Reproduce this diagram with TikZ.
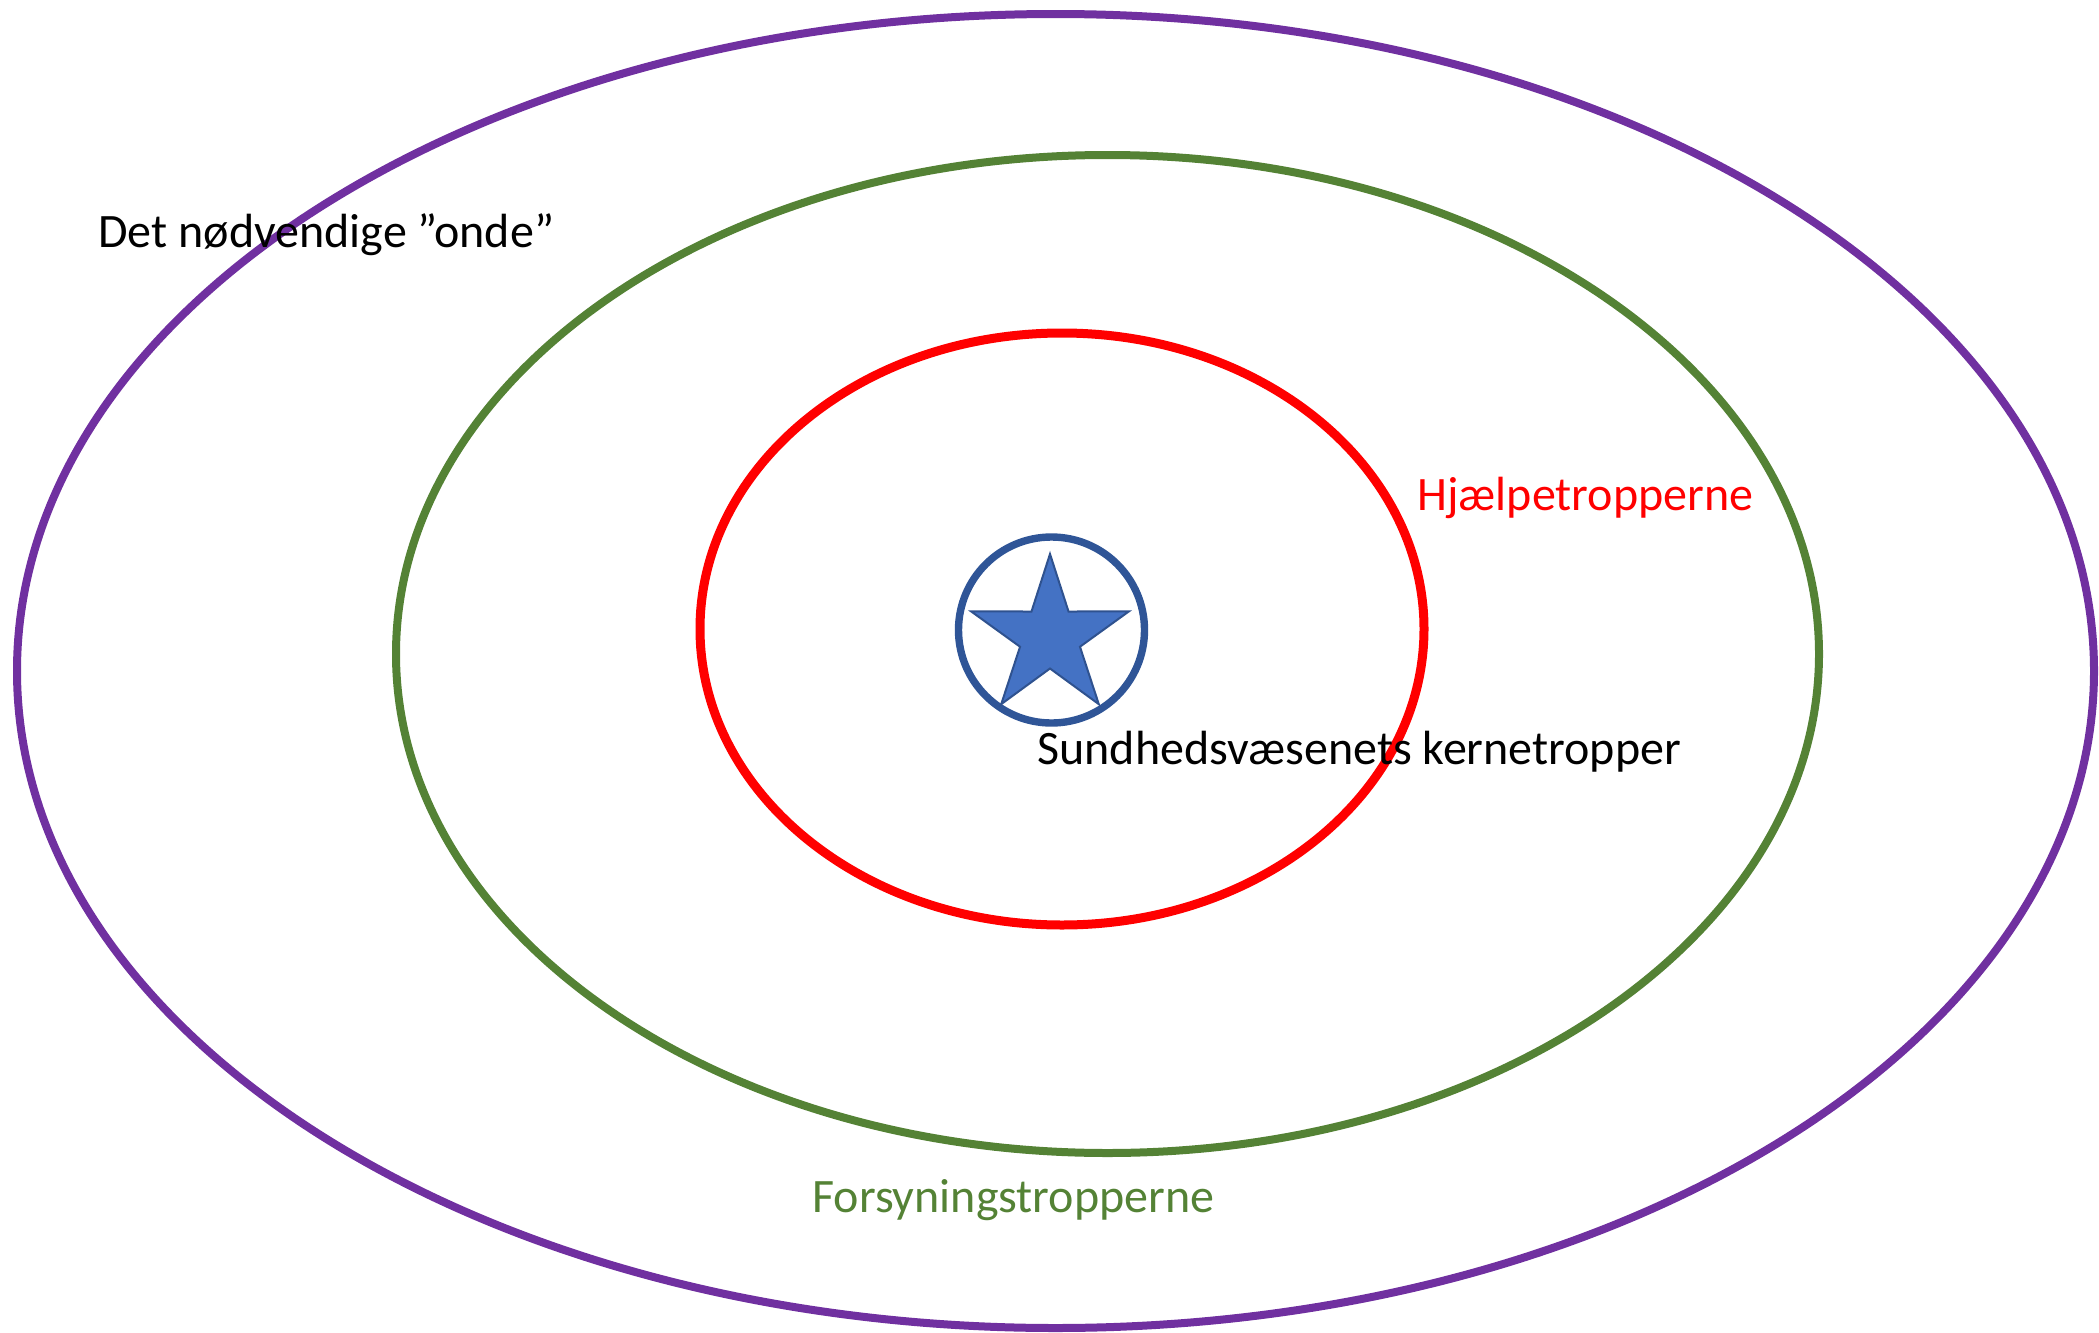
\documentclass[tikz,border=0pt]{standalone}
\usepackage{fontspec}
\setmainfont{Carlito}
\definecolor{ringpurple}{HTML}{7030A0}
\definecolor{ringgreen}{HTML}{548235}
\definecolor{ringred}{HTML}{FF0000}
\definecolor{coreblue}{HTML}{2F5597}
\definecolor{starfill}{HTML}{4472C4}
\definecolor{starline}{HTML}{2F528F}
\tikzset{
  ring/.style={line width=4pt},
  ringlabel/.style={anchor=base west, inner sep=0pt, font=\fontsize{24}{29}\selectfont}
}
\begin{document}
\begin{tikzpicture}[x=0.5pt,y=-0.5pt]
      \useasboundingbox (0,0) rectangle (2099,1333);
      % rings
      \draw[ring, ringpurple] (1055.5,671) ellipse [x radius=1038.5, y radius=657];
      \draw[ring, ringgreen] (1107.5,654) ellipse [x radius=711.5, y radius=499];
      \draw[ring, ringred, line width=4.5pt] (1062,629) ellipse [x radius=362, y radius=296];
      % core
      \node[circle, draw=coreblue, line width=3.7pt, minimum size=93pt, inner sep=0pt] (core) at (1051.5,630) {};
      \begin{scope}[shift={(1050,637)}]
        \draw[starline, fill=starfill, line width=1pt]
          (270:83) -- (306:31.5) -- (342:83) -- (18:31.5) -- (54:83)
          -- (90:31.5) -- (126:83) -- (162:31.5) -- (198:83) -- (234:31.5) -- cycle;
      \end{scope}
      % labels
      \node[ringlabel] (onde) at (98,247) {Det nødvendige ”onde”};
      \node[ringlabel, text=ringred] (hjaelp) at (1417,510) {Hjælpetropperne};
      \node[ringlabel] (kerne) at (1037,764) {Sundhedsvæsenets kernetropper};
      \node[ringlabel, text=ringgreen] (forsyning) at (812,1212) {Forsyningstropperne};
    \end{tikzpicture}
\end{document}
